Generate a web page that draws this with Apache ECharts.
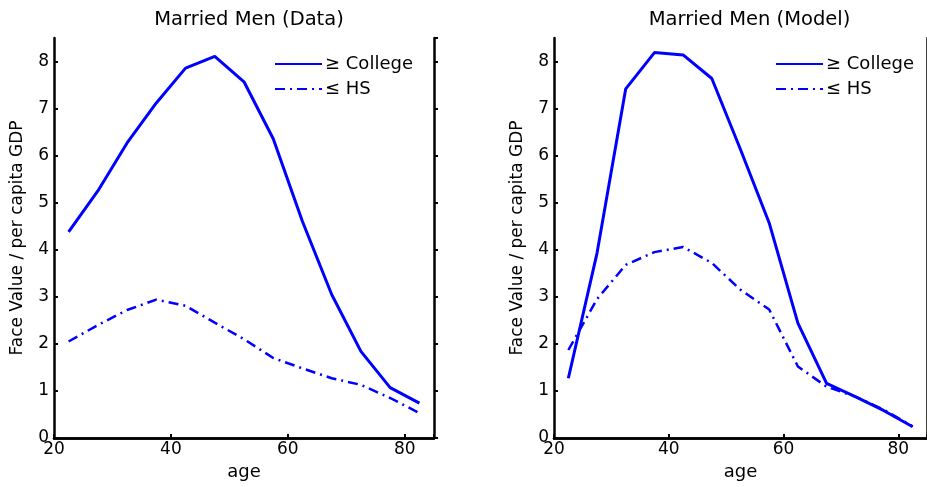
<!DOCTYPE html>
<html>
<head>
<meta charset="utf-8">
<script src="https://cdn.jsdelivr.net/npm/echarts@6/dist/echarts.min.js"></script>
<style>
html,body{margin:0;padding:0;background:#fff;}
#chart{width:927px;height:487px;}
</style>
</head>
<body>
<div id="chart"></div>
<script>
// ---- data ----
const ages = [22.5, 27.5, 32.5, 37.5, 42.5, 47.5, 52.5, 57.5, 62.5, 67.5, 72.5, 77.5, 82.5];
const dataCollege = [4.38, 5.25, 6.27, 7.12, 7.86, 8.11, 7.57, 6.36, 4.6, 3.05, 1.84, 1.07, 0.74];
const dataHS      = [2.05, 2.4, 2.72, 2.94, 2.81, 2.45, 2.1, 1.7, 1.48, 1.27, 1.13, 0.85, 0.53];
const modelCollege = [1.27, 3.93, 7.42, 8.19, 8.14, 7.64, 6.13, 4.57, 2.44, 1.16, 0.88, 0.58, 0.24];
const modelHS      = [1.87, 2.95, 3.68, 3.95, 4.06, 3.72, 3.15, 2.73, 1.52, 1.09, 0.88, 0.6, 0.25];
const titles = ['Married Men (Data)', 'Married Men (Model)'];
const seriesNames = ['\u2265 College', '\u2264 HS'];
const xTitle = 'age';
const yTitle = 'Face Value / per capita GDP';

const FONT = 'DejaVu Sans';
const BLUE = '#0000ff';

const chart = echarts.init(document.getElementById('chart'), null, {renderer: 'canvas'});

const grids = [
  {left: 54, top: 38, width: 380, height: 400},
  {left: 554, top: 38, width: 381, height: 400}
];

function pts(vals){ return ages.map((a,i)=>[a, vals[i]]); }
function axLine(){ return {show: true, lineStyle: {color: '#000', width: 2.5}}; }
function tick(inside){ return {show: true, inside: inside, length: 4, lineStyle: {color: '#000', width: 2}}; }

const xAxes = [], yAxes = [], series = [], titleArr = [], legends = [];
grids.forEach((g, gi) => {
  xAxes.push({
    type: 'value', gridIndex: gi, min: 20, max: 85, interval: 20, position: 'bottom',
    axisLine: axLine(), axisTick: tick(true), splitLine: {show: false},
    axisLabel: {color: '#000', fontFamily: FONT, fontSize: 17, margin: 3, showMaxLabel: false},
    name: xTitle, nameLocation: 'middle', nameGap: 25,
    nameTextStyle: {color: '#000', fontFamily: FONT, fontSize: 18}
  });
  xAxes.push({
    type: 'value', gridIndex: gi, min: 20, max: 85, interval: 20, position: 'top',
    axisLine: axLine(), axisTick: tick(false), splitLine: {show: false}, axisLabel: {show: false}
  });
  yAxes.push({
    type: 'value', gridIndex: gi, min: 0, max: 8.5, interval: 1, position: 'left',
    axisLine: axLine(), axisTick: tick(true), splitLine: {show: false},
    axisLabel: {color: '#000', fontFamily: FONT, fontSize: 17, margin: 5, showMaxLabel: false},
    name: yTitle, nameLocation: 'middle', nameGap: 28,
    nameTextStyle: {color: '#000', fontFamily: FONT, fontSize: 17}
  });
  yAxes.push({
    type: 'value', gridIndex: gi, min: 0, max: 8.5, interval: 1, position: 'right',
    axisLine: axLine(), axisTick: tick(false), splitLine: {show: false}, axisLabel: {show: false}
  });
  titleArr.push({
    text: titles[gi], left: g.left + g.width/2, top: 5, textAlign: 'center',
    textStyle: {color: '#000', fontFamily: FONT, fontSize: 19.5, fontWeight: 'normal'}
  });
  legends.push({
    orient: 'vertical', left: g.left + g.width - 160, top: 55, padding: 0,
    itemWidth: 47, itemHeight: 14, itemGap: 7,
    itemStyle: {opacity: 0},
    textStyle: {color: '#000', fontFamily: FONT, fontSize: 18, padding: [0,0,0,-2]},
    data: seriesNames
  });
});

const sets = [[dataCollege, dataHS], [modelCollege, modelHS]];
sets.forEach((pair, gi) => {
  series.push({
    type: 'line', name: seriesNames[0], xAxisIndex: gi*2, yAxisIndex: gi*2,
    data: pts(pair[0]), symbol: 'none', lineStyle: {color: BLUE, width: 3}, itemStyle: {color: BLUE},
    animation: false, silent: true
  });
  series.push({
    type: 'line', name: seriesNames[1], xAxisIndex: gi*2, yAxisIndex: gi*2,
    data: pts(pair[1]), symbol: 'none', lineStyle: {color: BLUE, width: 2.5, type: [10,5,2,5]}, itemStyle: {color: BLUE},
    animation: false, silent: true
  });
});

chart.setOption({
  backgroundColor: '#fff',
  animation: false,
  title: titleArr,
  legend: legends,
  grid: grids,
  xAxis: xAxes,
  yAxis: yAxes,
  series: series
});
</script>
</body>
</html>
